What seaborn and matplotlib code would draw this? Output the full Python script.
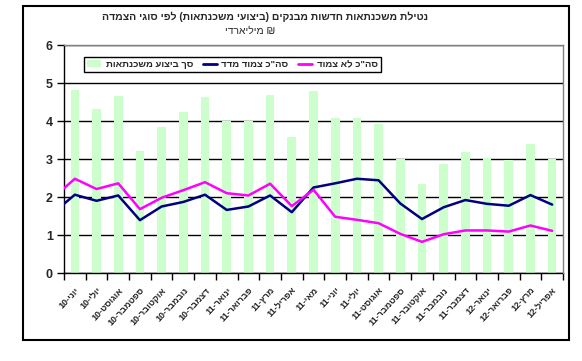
import re
import numpy as np
import pandas as pd
import matplotlib
matplotlib.use("Agg")
import matplotlib.pyplot as plt
import seaborn as sns
from matplotlib.patches import Rectangle, Patch
from matplotlib.lines import Line2D

# ---------------- data ----------------
title = 'נטילת משכנתאות חדשות מבנקים (ביצועי משכנתאות) לפי סוגי הצמדה'
subtitle = 'מיליארדי ₪'
series_names = ['סך ביצוע משכנתאות', 'סה"כ צמוד מדד', 'סה"כ לא צמוד']

years = ['10'] * 7 + ['11'] * 12 + ['12'] * 4
months = ['יוני', 'יולי', 'אוגוסט', 'ספטמבר', 'אוקטובר', 'נובמבר', 'דצמבר',
          'ינואר', 'פברואר', 'מרץ', 'אפריל', 'מאי', 'יוני', 'יולי', 'אוגוסט',
          'ספטמבר', 'אוקטובר', 'נובמבר', 'דצמבר',
          'ינואר', 'פברואר', 'מרץ', 'אפריל']
labels = [f"{y}-{m}" for y, m in zip(years, months)]

total = [4.82, 4.32, 4.67, 3.21, 3.84, 4.24, 4.63, 3.99, 4.00, 4.68, 3.58, 4.79,
         4.08, 4.08, 3.92, 3.00, 2.34, 2.87, 3.18, 3.03, 2.97, 3.39, 3.00]
cpi_linked = [2.06, 1.90, 2.04, 1.39, 1.75, 1.87, 2.06, 1.66, 1.75, 2.04, 1.60, 2.25,
              2.36, 2.48, 2.44, 1.83, 1.42, 1.73, 1.92, 1.82, 1.77, 2.05, 1.80]
unlinked = [2.48, 2.21, 2.36, 1.68, 1.98, 2.18, 2.39, 2.10, 2.04, 2.35, 1.76, 2.19,
            1.48, 1.40, 1.31, 1.03, 0.82, 1.02, 1.12, 1.12, 1.09, 1.25, 1.11]
# previous month (May 2010) - its segment enters from the left edge
cpi_linked_prev = 1.58
unlinked_prev = 1.98


def vis(s):
    """Reorder Hebrew runs into visual (left-to-right drawing) order."""
    pat = re.compile(r'[\u05D0-\u05EA](?:[\u05D0-\u05EA\s"\'()]*[\u05D0-\u05EA])?')

    def rev(m):
        return m.group(0)[::-1].translate(str.maketrans('()', ')('))
    return pat.sub(rev, s)


# ---------------- style ----------------
sns.set_style("white")
plt.rcParams['font.family'] = ['Liberation Sans', 'DejaVu Sans']

W, H = 582, 361
fig = plt.figure(figsize=(W / 100, H / 100), dpi=100)
fig.patch.set_facecolor('white')
ax = fig.add_axes([64 / W, 1 - 273 / H, 499 / W, 228 / H])

pos = np.arange(len(labels))
sns.barplot(x=pos, y=total, native_scale=True, width=0.4, color='#CCFFCC',
            saturation=1, linewidth=0, ax=ax, zorder=2)

line_pos = np.arange(-1, len(labels))
sns.lineplot(x=line_pos, y=[cpi_linked_prev] + cpi_linked, color='#000080',
             lw=1.8, ax=ax, zorder=4)
sns.lineplot(x=line_pos, y=[unlinked_prev] + unlinked, color='#FF00FF',
             lw=1.8, ax=ax, zorder=5)

ax.set_xlim(-0.5, len(labels) - 0.5)
ax.set_ylim(0, 6)
ax.set_xlabel('')
ax.set_ylabel('')

ax.set_xticks(pos)
ax.set_xticklabels([vis(l) for l in labels], rotation=47, ha='right',
                   va='top', rotation_mode='anchor', fontsize=6.5, fontweight='bold')
ax.tick_params(axis='x', which='major', length=0, pad=9)
ax.set_xticks(np.arange(-0.5, len(labels), 1), minor=True)
ax.tick_params(axis='x', which='minor', length=5, width=1, color='black',
               direction='out', bottom=True)

ax.set_yticks(range(7))
ax.set_yticklabels([str(i) for i in range(7)], fontsize=9, fontweight='bold')
ax.tick_params(axis='y', length=5, width=1, color='black', direction='out', left=True, pad=3)

ax.yaxis.grid(True, color='black', lw=1)
ax.set_axisbelow(True)

for s in ['left', 'bottom']:
    ax.spines[s].set_color('black')
    ax.spines[s].set_linewidth(1)
for s in ['top', 'right']:
    ax.spines[s].set_color('#808080')
    ax.spines[s].set_linewidth(1)
    ax.spines[s].set_zorder(6)

handles = [Patch(facecolor='#CCFFCC', edgecolor='none'),
           Line2D([], [], color='#000080', lw=2),
           Line2D([], [], color='#FF00FF', lw=2)]
leg = ax.legend(handles, [vis(n) for n in series_names], ncol=3, loc='upper left',
                bbox_to_anchor=(20 / 499, (273 - 57) / 228), borderaxespad=0,
                frameon=True, fancybox=False, edgecolor='black', framealpha=1,
                prop=dict(weight='bold', size=6.8), handlelength=1.5,
                handletextpad=0.5, columnspacing=1.0, borderpad=0.3)
leg.get_frame().set_linewidth(1)

fig.patches.append(Rectangle((23 / W, 1 - 340 / H), (569 - 23) / W, (340 - 6) / H,
                             transform=fig.transFigure, fill=False,
                             edgecolor='black', lw=1.5))

fig.text(265 / W, 1 - 17 / H, vis(title), ha='center', va='center',
         fontsize=7.5, fontweight='bold')
fig.text(250 / W, 1 - 31 / H, vis(subtitle), ha='center', va='center', fontsize=7.5)

fig.savefig('out.png', dpi=100, facecolor='white')
